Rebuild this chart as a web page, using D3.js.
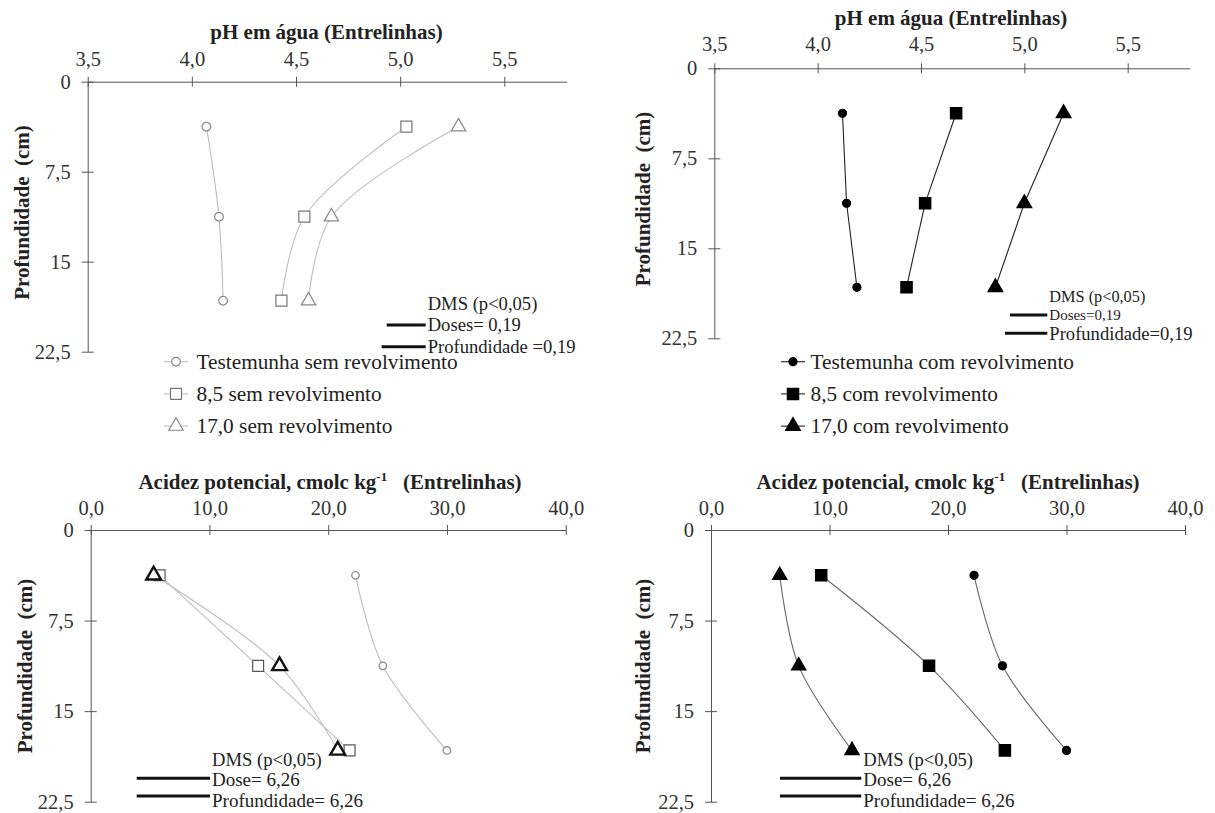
<!DOCTYPE html>
<html>
<head>
<meta charset="utf-8">
<script src="https://cdn.jsdelivr.net/npm/d3@7"></script>
<style>
  html, body { margin: 0; padding: 0; background: #fff; }
  svg { display: block; }
  svg text { font-family: "Liberation Serif", "Times New Roman", Times, serif; }
</style>
</head>
<body>
<svg id="chart" width="1215" height="813"></svg>
<script>
// Soil layer mid-depths (cm)
const depths = [3.75, 11.25, 18.25];
const depthTicks = [0, 7.5, 15, 22.5];
const phTicks = [3.5, 4.0, 4.5, 5.0, 5.5];
const acidTicks = [0, 10, 20, 30, 40];

// pH in water, without soil disturbance
const phTestemunhaSem = [4.07, 4.13, 4.15];
const ph85Sem = [5.03, 4.54, 4.43];
const ph170Sem = [5.28, 4.67, 4.56];
// pH in water, with soil disturbance
const phTestemunhaCom = [4.12, 4.14, 4.19];
const ph85Com = [4.67, 4.52, 4.43];
const ph170Com = [5.19, 5.00, 4.86];
// Potential acidity, without soil disturbance
const acTestemunhaSem = [22.3, 24.6, 30.0];
const ac85Sem = [5.8, 14.1, 21.8];
const ac170Sem = [5.3, 15.9, 20.8];
// Potential acidity, with soil disturbance
const acTestemunhaCom = [22.2, 24.6, 30.0];
const ac85Com = [9.3, 18.4, 24.8];
const ac170Com = [5.8, 7.4, 11.9];

const legendSem = ["Testemunha sem revolvimento", "8,5 sem revolvimento", "17,0 sem revolvimento"];
const legendCom = ["Testemunha com revolvimento", "8,5 com revolvimento", "17,0 com revolvimento"];

const FONT = "Liberation Serif";
const svg = d3.select("#chart");
const comma = (f) => (d) => d3.format(f)(d).replace(".", ",");
const depthFmt = (d) => String(d).replace(".", ",");

function markerPath(kind, scale) {
  const k = scale || 1;
  if (kind === "circle") return d3.symbol().type(d3.symbolCircle).size(60 * k)();
  if (kind === "square") return d3.symbol().type(d3.symbolSquare).size(140 * k)();
  return d3.symbol().type(d3.symbolTriangle).size(100 * k)();
}

function panel(opt) {
  const x = d3.scaleLinear().domain(opt.xDomain).range(opt.xRange);
  const y = d3.scaleLinear().domain([0, 22.5]).range(opt.yRange);
  const g = svg.append("g").attr("font-family", FONT);

  // top axis, ticks crossing the line
  const ax = g.append("g")
    .attr("transform", `translate(0,${opt.yRange[0]})`)
    .call(d3.axisTop(x).tickValues(opt.xTicks).tickFormat(comma(".1f"))
      .tickSize(0).tickPadding(opt.xPad).tickSizeOuter(0))
    .attr("font-family", FONT);
  ax.select(".domain").attr("stroke", "#555");
  ax.selectAll(".tick line").attr("y1", -5).attr("y2", 5).attr("stroke", "#555");
  ax.selectAll("text").attr("font-size", 20.5).attr("fill", "#333");

  // left depth axis
  const ay = g.append("g")
    .attr("transform", `translate(${opt.xRange[0]},0)`)
    .call(d3.axisLeft(y).tickValues(depthTicks).tickFormat(depthFmt)
      .tickSize(0).tickPadding(17).tickSizeOuter(0))
    .attr("font-family", FONT);
  ay.select(".domain").attr("stroke", "#555");
  ay.selectAll(".tick line").attr("x1", -6).attr("x2", 6).attr("stroke", "#555");
  ay.selectAll("text").attr("font-size", 20.5).attr("fill", "#333");

  // titles
  const t = g.append("text")
    .attr("x", opt.titleX).attr("y", opt.titleY)
    .attr("text-anchor", "middle").attr("font-weight", "bold").attr("font-size", 21).attr("fill", "#222");
  opt.title(t);

  g.append("text")
    .attr("transform", `translate(${opt.yTitleX},${opt.yTitleY}) rotate(-90)`)
    .attr("text-anchor", "middle").attr("font-weight", "bold").attr("font-size", 21).attr("fill", "#222")
    .attr("xml:space", "preserve")
    .text("Profundidade  (cm)");

  // series
  const line = d3.line().x((d) => x(d[0])).y((d) => y(d[1])).curve(opt.curve);
  opt.series.forEach((s) => {
    const pts = s.values.map((v, i) => [v, depths[i]]);
    g.append("path").datum(pts).attr("d", line)
      .attr("fill", "none").attr("stroke", s.lineColor).attr("stroke-width", s.lineWidth || 1.1);
  });
  opt.series.forEach((s) => {
    const pts = s.values.map((v, i) => [v, depths[i]]);
    g.selectAll(null).data(pts).enter().append("path")
      .attr("d", markerPath(s.kind, s.size))
      .attr("transform", (d) => `translate(${x(d[0])},${y(d[1])})`)
      .attr("fill", s.fill).attr("stroke", s.stroke).attr("stroke-width", s.markerWidth || 1.2);
  });

  // legend
  if (opt.legend) {
    opt.legend.labels.forEach((lab, i) => {
      const s = opt.series[i];
      const ly = opt.legend.y + i * 32.2;
      const lx = opt.legend.x;
      g.append("line").attr("x1", lx - 12).attr("x2", lx + 12).attr("y1", ly).attr("y2", ly)
        .attr("stroke", s.lineColor).attr("stroke-width", 1.1);
      g.append("path").attr("d", markerPath(s.kind, s.size))
        .attr("transform", `translate(${lx},${ly})`)
        .attr("fill", s.fill).attr("stroke", s.stroke).attr("stroke-width", s.markerWidth || 1.2);
      g.append("text").attr("x", opt.legend.textX).attr("y", ly + 7)
        .attr("font-size", 21.3).attr("fill", "#222").text(lab);
    });
  }

  // DMS annotation
  const d = opt.dms;
  g.append("text").attr("x", d.textX).attr("y", d.headY).attr("font-size", d.headSize)
    .attr("fill", "#222").attr("xml:space", "preserve").text("DMS (p<0,05)");
  d.rows.forEach((r) => {
    g.append("line").attr("x1", r.x1).attr("x2", d.textX - 2).attr("y1", r.y).attr("y2", r.y)
      .attr("stroke", "#111").attr("stroke-width", 3);
    g.append("text").attr("x", d.textX).attr("y", r.base).attr("font-size", r.size).attr("fill", "#222")
      .attr("xml:space", "preserve").text(r.text);
  });
}

const grayLine = "#bdbdbd";

// pH, without disturbance
panel({
  xDomain: [3.5, 5.8], xRange: [87.7, 566.8], yRange: [81.7, 351.7], xTicks: phTicks, xPad: 16,
  titleX: 326.5, titleY: 39, title: (t) => t.text("pH em água (Entrelinhas)"),
  yTitleX: 29, yTitleY: 212.5,
  curve: d3.curveCatmullRom,
  series: [
    { values: phTestemunhaSem, kind: "circle", fill: "#fff", stroke: "#888", lineColor: grayLine },
    { values: ph85Sem, kind: "square", fill: "#fff", stroke: "#777", lineColor: grayLine, size: 0.87 },
    { values: ph170Sem, kind: "triangle", fill: "#fff", stroke: "#888", lineColor: grayLine, size: 0.9 }
  ],
  legend: { labels: legendSem, x: 176, y: 361.7, textX: 196.5 },
  dms: {
    textX: 427.7, headY: 309.5, headSize: 18.6,
    rows: [
      { x1: 386.7, y: 325, base: 331, text: "Doses= 0,19", size: 18.6 },
      { x1: 381.7, y: 346.7, base: 352.7, text: "Profundidade =0,19", size: 18.6 }
    ]
  }
});

// pH, with disturbance
panel({
  xDomain: [3.5, 5.8], xRange: [714.3, 1189.7], yRange: [68.3, 338.3], xTicks: phTicks, xPad: 17,
  titleX: 951, titleY: 25, title: (t) => t.text("pH em água (Entrelinhas)"),
  yTitleX: 650, yTitleY: 199,
  curve: d3.curveLinear,
  series: [
    { values: phTestemunhaCom, kind: "circle", fill: "#000", stroke: "#000", lineColor: "#222", size: 0.85 },
    { values: ph85Com, kind: "square", fill: "#000", stroke: "#000", lineColor: "#222", size: 0.92 },
    { values: ph170Com, kind: "triangle", fill: "#000", stroke: "#000", lineColor: "#222", size: 0.95 }
  ],
  legend: { labels: legendCom, x: 793, y: 361.7, textX: 810.5 },
  dms: {
    textX: 1049.3, headY: 302, headSize: 16.3,
    rows: [
      { x1: 1010, y: 315, base: 320, text: "Doses=0,19", size: 15 },
      { x1: 1005, y: 333.3, base: 339.5, text: "Profundidade=0,19", size: 18.6 }
    ]
  }
});

function acidTitle(t) {
  t.attr("xml:space", "preserve");
  t.append("tspan").text("Acidez potencial, cmolc kg");
  t.append("tspan").attr("dy", -8).attr("font-size", 13).text("-1");
  t.append("tspan").attr("dy", 8).text("   (Entrelinhas)");
}

// Potential acidity, without disturbance
panel({
  xDomain: [0, 40], xRange: [90.7, 565.7], yRange: [530, 801.7], xTicks: acidTicks, xPad: 15,
  titleX: 330, titleY: 488.5, title: acidTitle,
  yTitleX: 32, yTitleY: 666,
  curve: d3.curveCatmullRom,
  series: [
    { values: acTestemunhaSem, kind: "circle", fill: "#fff", stroke: "#888", lineColor: grayLine, size: 0.75 },
    { values: ac85Sem, kind: "square", fill: "#fff", stroke: "#555", lineColor: grayLine, size: 0.85 },
    { values: ac170Sem, kind: "triangle", fill: "#fff", stroke: "#111", lineColor: grayLine, markerWidth: 2.4, size: 0.95 }
  ],
  dms: {
    textX: 212, headY: 766, headSize: 18.6,
    rows: [
      { x1: 136.7, y: 778.3, base: 786, text: "Dose= 6,26", size: 19 },
      { x1: 136.7, y: 796, base: 806.5, text: "Profundidade= 6,26", size: 19 }
    ]
  }
});

// Potential acidity, with disturbance
panel({
  xDomain: [0, 40], xRange: [711, 1185], yRange: [530, 801.7], xTicks: acidTicks, xPad: 15,
  titleX: 948, titleY: 488.5, title: acidTitle,
  yTitleX: 650, yTitleY: 666,
  curve: d3.curveCatmullRom,
  series: [
    { values: acTestemunhaCom, kind: "circle", fill: "#000", stroke: "#000", lineColor: "#666", size: 0.85 },
    { values: ac85Com, kind: "square", fill: "#000", stroke: "#000", lineColor: "#666", size: 0.92 },
    { values: ac170Com, kind: "triangle", fill: "#000", stroke: "#000", lineColor: "#666", size: 0.9 }
  ],
  dms: {
    textX: 863.3, headY: 765.5, headSize: 18.6,
    rows: [
      { x1: 780, y: 778.3, base: 786, text: "Dose= 6,26", size: 19 },
      { x1: 780, y: 796, base: 806.5, text: "Profundidade= 6,26", size: 19 }
    ]
  }
});
</script>
</body>
</html>
